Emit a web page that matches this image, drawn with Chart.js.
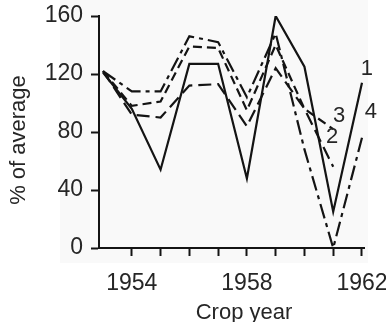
<!DOCTYPE html>
<html>
<head>
<meta charset="utf-8">
<script src="https://cdn.jsdelivr.net/npm/chart.js@4.4.1/dist/chart.umd.min.js"></script>
<style>
  html, body { margin: 0; padding: 0; background: #ffffff; }
  #wrap { width: 386px; height: 322px; }
</style>
</head>
<body>
<div id="wrap"><canvas id="c" width="386" height="322"></canvas></div>
<script>
// Crop yields, % of average, by crop year
const years   = [1953, 1954, 1955, 1956, 1957, 1958, 1959, 1960, 1961, 1962];
const series1 = [121, 96, 54, 127, 127, 48, 160, 125, 25, 114];
const series2 = [122, 92, 90, 112, 113, 84, 124, 96, 56, null];
const series3 = [122, 98, 101, 139, 138, 95, 140, 96, 82, null];
const series4 = [122, 108, 108, 146, 142, 104, 148, 68, 0, 76];
const seriesNames = ['1', '2', '3', '4'];
const xTickYears = [1954, 1955, 1956, 1957, 1958, 1959, 1960, 1961, 1962];
const xLabelYears = [1954, 1958, 1962];
const yLabelValues = [0, 40, 80, 120, 160];

const INK = '#141414';
const TEXT = '#262626';
const FONT = "'Liberation Sans', Arial, sans-serif";

function points(values) {
  return years.map((yr, i) => ({ x: yr, y: values[i] })).filter(p => p.y !== null);
}

// series number written just past the last point of each line
const endLabels = {
  id: 'endLabels',
  afterDatasetsDraw(chart) {
    const ctx = chart.ctx;
    const offsets = [[5, -14], [-1, -30], [6, -13], [9, -26]];
    ctx.save();
    ctx.font = '22px ' + FONT;
    ctx.fillStyle = TEXT;
    ctx.textAlign = 'center';
    ctx.textBaseline = 'middle';
    chart.data.datasets.forEach((ds, i) => {
      const last = ds.data[ds.data.length - 1];
      const px = chart.scales.x.getPixelForValue(last.x) + offsets[i][0];
      const py = chart.scales.y.getPixelForValue(last.y) + offsets[i][1];
      ctx.fillText(seriesNames[i], px, py);
    });
    ctx.restore();
  }
};

// paper tint behind the plot and the axis titles
const frame = {
  id: 'frame',
  beforeDraw(chart) {
    const ctx = chart.ctx;
    const a = chart.chartArea;
    ctx.save();
    ctx.fillStyle = '#f9f9f9';
    ctx.fillRect(a.left - 39, 0, a.right - a.left + 43, a.bottom + 15);
    ctx.restore();
  },
  afterDraw(chart) {
    const ctx = chart.ctx;
    const a = chart.chartArea;
    ctx.save();
    ctx.font = '22px ' + FONT;
    ctx.fillStyle = TEXT;
    ctx.textAlign = 'center';
    ctx.textBaseline = 'middle';
    ctx.fillText('Crop year', 244, a.bottom + 65);
    ctx.translate(a.left - 80, (a.top + a.bottom) / 2 + 8);
    ctx.rotate(-Math.PI / 2);
    ctx.fillText('% of average', 0, 0);
    ctx.restore();
  }
};

const lineStyle = (values, dash) => ({
  data: points(values),
  borderColor: INK,
  borderWidth: 2.2,
  borderDash: dash,
  pointRadius: 0,
  tension: 0,
  fill: false
});

function noOverflow(s) {
  s.paddingLeft = 0;
  s.paddingRight = 0;
  s.paddingTop = 0;
  s.paddingBottom = 0;
}

new Chart(document.getElementById('c'), {
  type: 'line',
  data: {
    datasets: [
      lineStyle(series1, []),
      lineStyle(series2, [13, 6]),
      lineStyle(series3, [9, 5]),
      lineStyle(series4, [15, 5, 4, 5])
    ]
  },
  options: {
    responsive: false,
    animation: false,
    devicePixelRatio: 1,
    layout: { autoPadding: false, padding: { left: 0, top: 16, right: 22, bottom: 0 } },
    plugins: { legend: { display: false }, tooltip: { enabled: false } },
    scales: {
      x: {
        type: 'linear',
        min: 1952.86,
        max: 1962.07,
        afterFit(s) { s.height = 74; noOverflow(s); },
        afterBuildTicks(s) { s.ticks = xTickYears.map(v => ({ value: v })); },
        border: { display: true, color: INK, width: 2 },
        grid: { drawOnChartArea: false, drawTicks: true, tickLength: 8, tickColor: INK, tickWidth: 2 },
        ticks: {
          autoSkip: false,
          maxRotation: 0,
          padding: 14,
          color: TEXT,
          font: { family: FONT, size: 23 },
          callback: v => xLabelYears.includes(v) ? String(v) : ''
        }
      },
      y: {
        min: 0,
        max: 160,
        afterFit(s) { s.width = 99; noOverflow(s); },
        border: { display: true, color: INK, width: 2 },
        grid: { drawOnChartArea: false, drawTicks: true, tickLength: 8, tickColor: INK, tickWidth: 2 },
        ticks: {
          stepSize: 20,
          padding: 8,
          color: TEXT,
          font: { family: FONT, size: 23 },
          callback: v => yLabelValues.includes(v) ? String(v) : ''
        }
      }
    }
  },
  plugins: [frame, endLabels]
});
</script>
</body>
</html>
